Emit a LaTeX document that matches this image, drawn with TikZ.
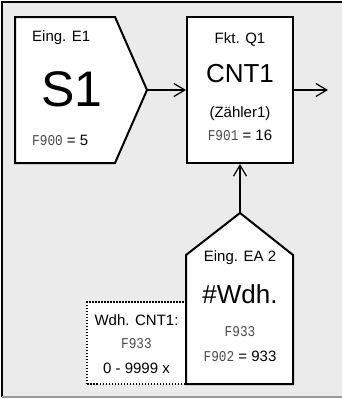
\documentclass[tikz,border=0pt]{standalone}
\usepackage{fontspec}
\setmainfont{Liberation Sans}
\newfontfamily\segfont[FakeStretch=0.85]{Liberation Mono}
\usetikzlibrary{arrows.meta}
\definecolor{panelgray}{HTML}{EBEBEB}
\newcommand{\segtxt}[1]{{\fontsize{15}{18}\segfont\color{black!70}#1}}
\begin{document}
\begin{tikzpicture}[
    x=1pt, y=-1pt,
    block/.style={draw, line width=2pt, fill=white, inner sep=0pt, line join=miter},
    flow/.style={line width=1.2pt, -{Straight Barb[length=11pt,width=13pt]}},
    txt/.style={font=\fontsize{15}{18}\selectfont, inner sep=0pt},
    big/.style={font=\fontsize{26}{30}\selectfont, inner sep=0pt},
    seg/.style={font=\fontsize{15}{18}\segfont, text=black!70, inner sep=0pt},
    note/.style={draw, line width=1.5pt, dash pattern=on 1.5pt off 1.5pt, fill=white}
]
\useasboundingbox (0,0) rectangle (342,399);

% frame
\fill[panelgray] (2,2) rectangle (344,397);
\draw[line width=2pt] (2,397) -- (2,2) -- (344,2);
\draw[line width=1.5pt, black!40] (2,397) -- (344,397);

% blocks
\draw[block] (15,17) -- (115,17) -- (147,90) coordinate (e1) -- (115,163) -- (15,163) -- cycle;
\node[block, minimum width=106, minimum height=146] (q1) at (240,90) {};
\draw[note] (87,384) rectangle (186,302);
\draw[block] (186,384) -- (186,255) -- (240,213) coordinate (ea2) -- (293,255) -- (293,384) -- cycle;

% texts
\node[txt, anchor=west] (e1t) at (32,38) {Eing. E1};
\node[font=\fontsize{50}{56}\selectfont, inner sep=0pt] (e1n) at (72,89) {S1};
\node[txt, anchor=west] (e1p) at (32,140) {\segtxt{F900} = 5};

\node[txt] (q1t) at (240,39) {Fkt. Q1};
\node[big] (q1n) at (240,74) {CNT1};
\node[txt] (q1z) at (240,114) {(Zähler1)};
\node[txt] (q1p) at (240,135) {\segtxt{F901} = 16};

\node[txt] (ea2t) at (240,258) {Eing. EA 2};
\node[big] (ea2n) at (240,294) {\#Wdh.};
\node[seg] (ea2s) at (240,332) {F933};
\node[txt] (ea2p) at (240,356) {\segtxt{F902} = 933};

\node[txt] (wdht) at (136.5,320) {Wdh. CNT1:};
\node[seg] (wdhs) at (136.5,344) {F933};
\node[txt] (wdhr) at (136.5,368) {0 - 9999 x};

% connectors
\coordinate (out) at (328,90);
\draw[flow] (e1) -- (q1.west);
\draw[flow] (q1.east) -- (out);
\draw[flow] (ea2) -- (q1.south);

\end{tikzpicture}
\end{document}
